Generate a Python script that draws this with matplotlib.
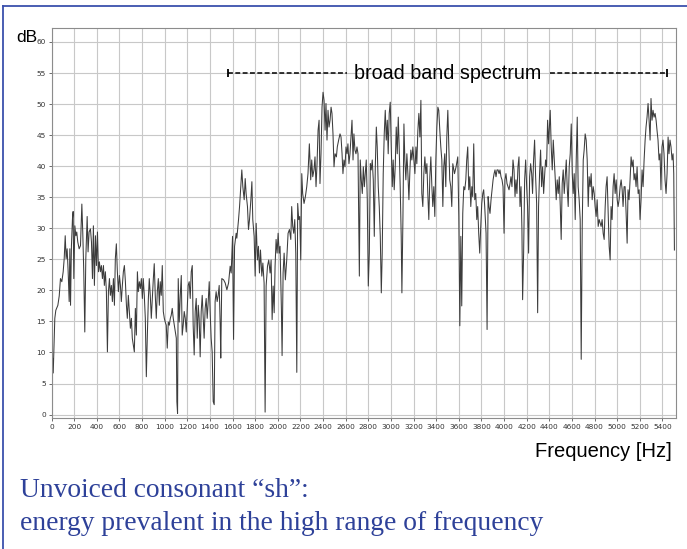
import numpy as np
import matplotlib.pyplot as plt
from matplotlib.lines import Line2D

# spectrum of "sh" (Hz, dB)
low_hz = [0, 4, 9, 15, 29, 38, 56, 68, 79, 91, 103, 112, 121, 129, 138, 147, 156, 162, 168, 176,
          185, 191, 197, 206, 215, 223, 232, 244, 256, 268, 276, 285, 294, 303, 315, 323, 332, 344, 353, 362,
          370, 379, 388, 397, 406, 415, 423, 432, 441, 450, 459, 467, 476, 485, 494, 503, 512, 520, 529, 538,
          547, 556, 564, 573, 582, 591, 600, 609, 617, 626, 635, 644, 653, 662, 670, 679, 688, 697, 706, 714,
          723, 732, 741, 750, 759, 767, 776, 785, 794, 803, 811, 820, 829, 838, 847, 856, 864, 873, 882, 891,
          900, 908, 917, 926, 935, 944, 953, 961, 970, 979, 988, 997, 1005, 1014, 1023, 1032, 1041, 1050, 1058, 1067,
          1076, 1085, 1094, 1103, 1108, 1114, 1120, 1129, 1138, 1147, 1155, 1164, 1173, 1182, 1191, 1200, 1208, 1217, 1226, 1235,
          1244, 1252, 1261, 1270, 1279, 1288, 1297, 1305, 1314, 1323, 1332, 1341, 1349, 1358, 1367, 1376, 1385, 1394, 1402, 1411,
          1420, 1429, 1438, 1446, 1455, 1464, 1473, 1482, 1491, 1496, 1505]
low_db = [1.6, 5.3, 9.1, 6.7, 15.5, 16.8, 17.6, 19.1, 21.9, 21.4, 23.0, 25.1, 28.8, 25.1, 26.7, 23.0, 18.2, 26.7, 17.6, 27.2,
          31.5, 32.7, 21.9, 30.4, 28.8, 29.4, 27.8, 26.7, 27.2, 33.9, 29.4, 23.0, 13.3, 25.1, 31.9, 26.2, 29.4, 29.9, 27.8, 21.9,
          30.4, 20.8, 28.8, 24.0, 29.4, 23.0, 24.6, 23.0, 24.0, 21.9, 24.0, 20.8, 23.0, 19.8, 10.1, 19.8, 21.9, 19.2, 20.8, 18.2,
          21.9, 17.6, 25.1, 27.5, 23.0, 19.8, 22.4, 20.8, 18.2, 20.8, 23.0, 24.0, 21.4, 17.6, 15.5, 19.2, 16.6, 13.9, 15.5, 12.3,
          11.2, 10.1, 17.1, 12.8, 23.0, 19.8, 21.4, 20.3, 21.9, 18.7, 21.9, 19.2, 15.5, 6.1, 12.8, 18.7, 21.9, 19.2, 15.5, 18.7,
          21.9, 24.3, 19.2, 15.5, 19.8, 21.9, 17.6, 21.4, 19.2, 24.0, 16.6, 15.5, 14.9, 14.4, 10.7, 14.9, 14.4, 15.5, 16.0, 17.1,
          15.5, 14.4, 13.3, 12.3, 2.1, 0.2, 21.9, 14.9, 19.2, 22.4, 12.8, 14.4, 16.6, 15.5, 13.3, 17.1, 20.8, 21.4, 18.7, 23.0,
          24.0, 14.4, 9.6, 16.6, 18.7, 12.3, 17.6, 15.5, 9.3, 16.6, 19.2, 15.5, 12.3, 17.1, 18.7, 15.5, 18.2, 21.4, 16.6, 12.3,
          10.1, 2.1, 1.6, 18.2, 19.8, 18.2, 19.2, 20.8, 14.4, 9.1, 21.9]

mid_hz = [1521, 1535, 1550, 1565, 1579, 1588, 1600, 1609, 1618, 1632, 1638, 1653, 1662, 1673, 1682, 1691, 1703, 1712, 1720, 1732,
          1741, 1750, 1762, 1771, 1779, 1791, 1800, 1809, 1820, 1829, 1838, 1847, 1859, 1868, 1879, 1888, 1897, 1909, 1920, 1932,
          1941, 1950, 1959, 1968, 1976, 1985, 1994, 2003, 2012, 2020, 2032, 2038, 2047, 2056, 2067, 2079, 2091, 2103, 2115, 2123,
          2132, 2141, 2150, 2159, 2168, 2176, 2185, 2194, 2203, 2212, 2220, 2232, 2244, 2256, 2267, 2279, 2291, 2300, 2309, 2320,
          2329, 2338, 2347, 2356, 2365, 2373, 2382, 2391, 2400, 2409, 2418, 2426, 2435, 2444, 2453, 2462, 2471, 2479, 2488, 2497,
          2506, 2518, 2526, 2538, 2550, 2559, 2568, 2576, 2585, 2594, 2603, 2612, 2620, 2629, 2638, 2647, 2656, 2665, 2673, 2682,
          2691, 2700, 2709, 2721, 2729, 2738, 2747, 2756, 2765, 2773, 2782, 2791, 2800, 2809, 2818, 2826, 2835, 2844, 2853, 2862,
          2871, 2879, 2888, 2897, 2906, 2915, 2923, 2932, 2941, 2950, 2959, 2968, 2976, 2985, 2994, 3003, 3012, 3020, 3029, 3038,
          3047, 3056, 3065, 3073, 3082, 3091, 3097, 3106, 3115, 3123, 3132, 3141, 3150, 3159, 3168, 3176, 3185, 3194, 3203, 3212,
          3221, 3229, 3238, 3247, 3256, 3265, 3273, 3282, 3291, 3300, 3309, 3318, 3326, 3335, 3344, 3353, 3362, 3370, 3379, 3388,
          3397, 3406, 3415, 3423, 3432, 3441, 3450, 3459, 3467, 3476, 3485, 3494, 3503, 3512, 3520, 3529, 3538]
mid_db = [21.7, 21.2, 20.1, 21.2, 23.9, 22.8, 28.7, 12.1, 27.1, 29.2, 28.4, 31.4, 33.5, 36.7, 39.4, 36.7, 34.6, 38.0, 35.6, 33.5,
          29.8, 31.4, 34.6, 37.5, 31.4, 28.7, 22.3, 30.8, 24.9, 27.1, 22.8, 26.5, 22.3, 24.4, 21.2, 0.4, 20.7, 23.9, 24.9, 22.8,
          24.9, 15.3, 20.7, 16.4, 23.9, 28.2, 26.0, 29.2, 26.0, 27.1, 16.9, 9.5, 22.8, 26.0, 21.7, 24.9, 29.2, 29.8, 28.2, 33.5,
          30.3, 29.2, 31.4, 26.0, 6.8, 34.0, 31.4, 31.9, 24.9, 38.8, 35.6, 34.0, 35.1, 36.7, 38.8, 43.6, 37.8, 41.0, 38.3, 39.4,
          41.5, 36.7, 40.4, 45.8, 47.4, 37.2, 42.0, 49.5, 51.9, 50.6, 45.8, 50.1, 44.2, 49.0, 46.3, 47.4, 49.5, 48.5, 45.2, 39.9,
          42.0, 41.5, 43.1, 44.2, 45.2, 44.7, 42.0, 38.8, 41.0, 39.9, 43.1, 42.0, 43.6, 40.4, 42.0, 44.7, 47.4, 41.0, 45.2, 42.6,
          42.0, 43.1, 42.0, 22.3, 41.0, 37.8, 35.6, 39.9, 36.7, 38.8, 41.0, 34.6, 20.7, 26.0, 40.4, 39.4, 41.0, 37.8, 28.7, 39.9,
          46.3, 43.1, 36.7, 33.5, 28.7, 19.6, 26.0, 38.8, 45.2, 49.0, 44.2, 47.4, 42.0, 48.5, 50.3, 43.1, 36.7, 41.0, 36.2, 39.9,
          46.3, 42.0, 47.9, 43.1, 36.7, 28.7, 19.6, 31.4, 46.8, 41.0, 37.8, 42.0, 38.8, 34.6, 39.4, 42.6, 41.0, 43.1, 41.0, 38.8,
          43.1, 40.4, 45.7, 48.5, 44.7, 50.6, 35.6, 33.5, 38.8, 41.5, 38.8, 40.4, 35.6, 31.4, 38.3, 41.5, 36.7, 33.5, 36.7, 31.9,
          41.0, 46.3, 49.5, 49.0, 45.8, 43.1, 41.0, 33.5, 39.9, 42.0, 36.7, 44.7, 49.0, 43.1, 37.8, 36.7, 33.5]

high_hz = [3547, 3562, 3576, 3591, 3600, 3609, 3618, 3626, 3635, 3644, 3653, 3662, 3670, 3679, 3688, 3697, 3706, 3715, 3723, 3732,
           3741, 3750, 3759, 3767, 3776, 3785, 3794, 3803, 3812, 3820, 3829, 3841, 3850, 3859, 3867, 3876, 3885, 3894, 3903, 3912,
           3920, 3929, 3938, 3947, 3956, 3964, 3973, 3982, 3991, 4000, 4008, 4017, 4026, 4035, 4044, 4053, 4061, 4070, 4079, 4088,
           4097, 4105, 4114, 4123, 4132, 4141, 4150, 4158, 4164, 4173, 4182, 4191, 4200, 4208, 4217, 4226, 4235, 4244, 4252, 4261,
           4270, 4279, 4288, 4297, 4305, 4314, 4323, 4332, 4341, 4350, 4358, 4367, 4376, 4385, 4394, 4400, 4408, 4417, 4426, 4435,
           4444, 4453, 4461, 4470, 4479, 4488, 4497, 4505, 4514, 4523, 4532, 4541, 4550, 4558, 4567, 4576, 4585, 4594, 4603, 4611,
           4620, 4629, 4638, 4647, 4655, 4664, 4673, 4682, 4691, 4700, 4708, 4717, 4726, 4735, 4744, 4752, 4761, 4770, 4779, 4788,
           4797, 4805, 4814, 4823, 4832, 4841, 4850, 4858, 4867, 4876, 4885, 4894, 4902, 4911, 4920, 4929, 4938, 4946, 4955, 4964,
           4973, 4982, 4991, 5000, 5008, 5017, 5026, 5035, 5044, 5052, 5061, 5070, 5079, 5088, 5096, 5105, 5114, 5123, 5132, 5141,
           5149, 5158, 5167, 5176, 5185, 5194, 5202, 5211, 5220, 5229, 5238, 5247, 5255, 5264, 5273, 5282, 5291, 5299, 5308, 5317,
           5326, 5335, 5344, 5352, 5361, 5370, 5379, 5387, 5396, 5405, 5414, 5423, 5432, 5441, 5450, 5458, 5467, 5476, 5485, 5494,
           5500, 5506]
high_db = [40.4, 38.8, 39.9, 41.5, 31.9, 14.3, 28.7, 17.5, 32.4, 36.7, 36.2, 37.8, 41.0, 43.1, 36.2, 38.3, 33.5, 36.7, 35.1, 43.6,
           34.6, 35.6, 31.4, 33.5, 29.2, 26.0, 30.3, 34.0, 35.6, 36.2, 33.5, 29.2, 13.7, 35.1, 33.5, 32.4, 34.6, 36.2, 37.8, 38.8,
           39.4, 38.3, 39.4, 39.4, 38.8, 39.4, 38.3, 37.8, 36.7, 29.2, 37.8, 38.8, 37.2, 36.7, 36.2, 37.2, 38.3, 36.7, 41.0, 39.4,
           35.1, 37.8, 35.6, 39.9, 41.5, 33.5, 36.7, 29.8, 18.5, 26.0, 37.8, 41.0, 36.7, 33.5, 26.0, 38.3, 40.4, 38.8, 35.6, 41.0,
           44.2, 38.3, 34.0, 16.4, 33.5, 38.8, 42.6, 36.7, 39.9, 35.6, 38.3, 41.0, 39.9, 47.4, 43.6, 45.8, 49.0, 43.1, 39.4, 44.2,
           41.0, 37.8, 34.6, 37.8, 35.6, 38.3, 33.5, 28.2, 37.2, 39.4, 35.6, 38.3, 41.0, 36.7, 33.5, 39.9, 42.0, 46.8, 38.8, 35.6,
           38.8, 31.4, 41.0, 47.9, 36.7, 34.6, 31.4, 8.9, 30.3, 41.0, 42.6, 45.2, 44.2, 41.0, 33.5, 38.3, 36.7, 38.8, 34.6, 36.7,
           35.6, 33.5, 31.9, 34.6, 30.3, 31.4, 30.8, 30.3, 31.4, 29.2, 28.2, 33.5, 36.7, 38.3, 32.4, 27.1, 24.9, 33.5, 31.4, 36.7,
           38.8, 35.6, 37.8, 34.6, 33.5, 34.6, 36.7, 37.8, 36.2, 33.5, 36.7, 36.7, 32.4, 27.6, 36.2, 34.6, 37.8, 41.5, 39.9, 41.0,
           37.8, 38.8, 36.7, 39.9, 35.6, 36.2, 31.4, 34.6, 39.4, 36.7, 41.0, 44.2, 46.3, 47.9, 50.1, 47.4, 44.2, 50.9, 47.4, 49.0,
           47.9, 48.5, 47.4, 45.8, 44.2, 41.0, 42.0, 36.2, 43.1, 44.2, 42.0, 37.8, 35.6, 38.8, 44.7, 42.0, 44.2, 43.1, 41.0, 42.0,
           38.8, 26.5]

freq = np.array(low_hz + mid_hz + high_hz)
level = np.array(low_db + mid_db + high_db)

blue = '#2e4199'
tick_font = ['Liberation Sans Narrow', 'DejaVu Sans']

fig = plt.figure(figsize=(6.87, 5.49), dpi=100)
ax = fig.add_axes([0.075, 0.2386, 0.909, 0.7104])

ax.plot(freq, level, color='#3c3c3c', lw=0.75)

ax.set_xlim(0, 5520)
ax.set_ylim(-0.55, 62.25)
ax.set_xticks(np.arange(0, 5401, 200))
ax.set_yticks(np.arange(0, 61, 5))
ax.grid(True, color='#c8c8c8', lw=0.8)
ax.set_axisbelow(True)
for s in ax.spines.values():
    s.set_color('#8c8c8c')
    s.set_linewidth(0.8)
ax.tick_params(direction='out', length=2.5, width=0.6, color='#555555', pad=1.5,
               labelsize=5.3, labelcolor='#333333')
for lab in ax.get_xticklabels() + ax.get_yticklabels():
    lab.set_family(tick_font)

# broad band annotation
ax.plot([1561, 2615], [55, 55], color='black', lw=1.1, ls=(0, (3.2, 1.6)))
ax.plot([4410, 5444], [55, 55], color='black', lw=1.1, ls=(0, (3.2, 1.6)))
ax.plot([1561, 5444], [55, 55], ls='none', marker='|', ms=6, mew=1.3, color='black')
ax.text(3505, 55, 'broad band spectrum', ha='center', va='center', fontsize=14.2,
        family='Liberation Sans')

fig.text(0.024, 0.932, 'dB', fontsize=12.5, family='Liberation Sans', va='center', ha='left')
fig.text(0.978, 0.1785, 'Frequency [Hz]', fontsize=14.5, family='Liberation Sans',
         va='center', ha='right')

fig.text(0.029, 0.0947, 'Unvoiced consonant \u201csh\u201d:', fontsize=19.8,
         family='Liberation Serif', color=blue, va='baseline')
fig.text(0.029, 0.0346, 'energy prevalent in the high range of frequency', fontsize=19.8,
         family='Liberation Serif', color=blue, va='baseline')

# slide frame: top and left
fig.add_artist(Line2D([3 / 687, 1], [1 - 6 / 549, 1 - 6 / 549], color='#3b50ad', lw=1.3))
fig.add_artist(Line2D([3 / 687, 3 / 687], [0, 1 - 6 / 549], color='#3b50ad', lw=1.3))

fig.savefig('out.png', dpi=100)
